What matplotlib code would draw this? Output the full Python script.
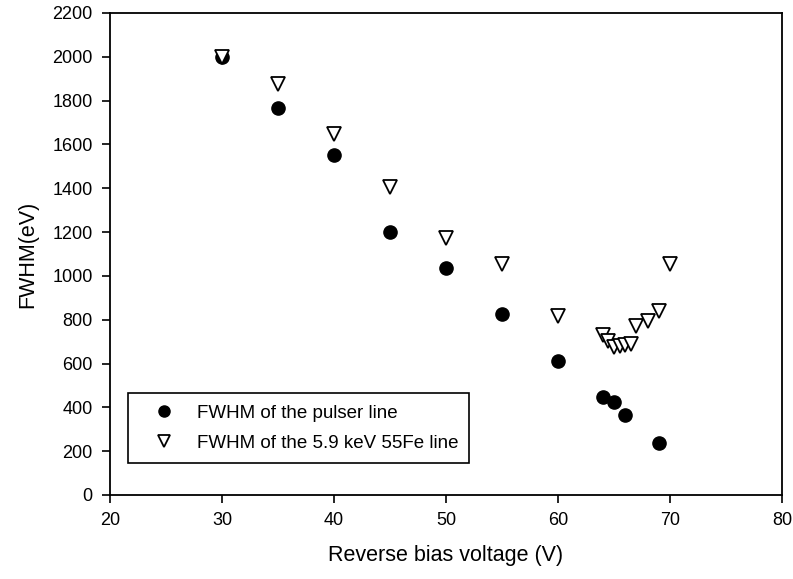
import matplotlib.pyplot as plt

plt.rcParams['font.family'] = ['Liberation Sans', 'DejaVu Sans']

# pulser line
v_pulser = [30, 35, 40, 45, 50, 55, 60, 64, 65, 66, 69]
fwhm_pulser = [2000, 1766, 1552, 1200, 1036, 826, 612, 446, 423, 364, 236]

# 5.9 keV 55Fe line
v_fe = [30, 35, 40, 45, 50, 55, 60, 64, 64.5, 65, 65.5, 66, 66.5, 67, 68, 69, 70]
fwhm_fe = [2000, 1876, 1648, 1406, 1173, 1055, 817, 730, 705, 675, 680, 685, 690, 771, 794, 841, 1055]

fig = plt.figure(figsize=(7.93, 5.79), dpi=100)
ax = fig.add_axes([0.1387, 0.1451, 0.8474, 0.8325])

ax.plot(v_pulser, fwhm_pulser, 'o', color='black', markersize=9.5,
        label="FWHM of the pulser line", zorder=3)
ax.plot(v_fe, fwhm_fe, 'v', markerfacecolor='white', markeredgecolor='black',
        markeredgewidth=1.3, markersize=9.5,
        label="FWHM of the 5.9 keV 55Fe line", zorder=4)

ax.set_xlim(20, 80)
ax.set_ylim(0, 2200)
ax.set_xticks(range(20, 81, 10))
ax.set_yticks(range(0, 2201, 200))
ax.tick_params(direction='out', length=5.5, width=1.2, pad=7, labelsize=13, colors='black')
for s in ax.spines.values():
    s.set_linewidth(1.3)

ax.set_xlabel("Reverse bias voltage (V)", fontsize=15.5, labelpad=11)
ax.set_ylabel("FWHM(eV)", fontsize=15.5, labelpad=10)

leg = ax.legend(loc='lower left', bbox_to_anchor=(0.027, 0.066), fontsize=13.5,
                frameon=True, fancybox=False, edgecolor='black', borderpad=0.6,
                handletextpad=0.45, labelspacing=0.7, borderaxespad=0,
                handlelength=2.6)
leg.get_frame().set_linewidth(1.2)
leg.get_frame().set_alpha(1)
for h in leg.legend_handles:
    h.set_markersize(8)

fig.savefig("out.png", dpi=100)
